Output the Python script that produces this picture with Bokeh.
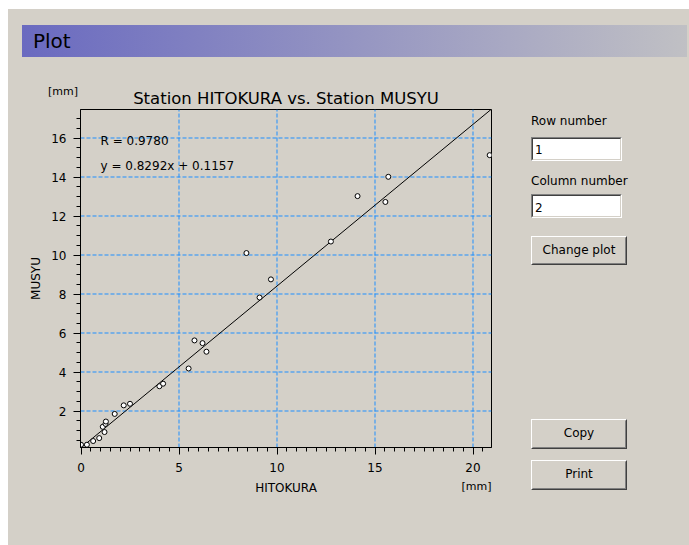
from bokeh.plotting import figure
from bokeh.models import FixedTicker, Label, Range1d, GridBox, Div
from bokeh.embed import file_html
from bokeh.resources import INLINE

# ---------------- data ----------------
hitokura = [0.00, 0.30, 0.62, 0.93, 1.20, 1.11, 1.25, 1.27, 1.72, 2.18, 2.50,
            4.00, 4.19, 5.49, 5.79, 6.20, 6.40, 8.44, 9.11, 9.69, 12.75,
            14.11, 15.53, 15.68, 20.85]
musyu = [0.27, 0.27, 0.46, 0.61, 0.92, 1.19, 1.34, 1.46, 1.85, 2.29, 2.37,
         3.27, 3.40, 4.18, 5.62, 5.48, 5.04, 10.10, 7.82, 8.75, 10.69,
         13.02, 12.72, 14.01, 15.12]
slope = 0.8292
intercept = 0.1157
r_value = 0.9780
x_major = [0, 5, 10, 15, 20]
y_major = [2, 4, 6, 8, 10, 12, 14, 16]
x_minor = [v / 2 for v in range(0, 42)]
y_minor = [v / 2 for v in range(1, 35)]
x_grid = [5, 10, 15, 20]
y_grid = [2, 4, 6, 8, 10, 12, 14, 16]

chart_title = "Station HITOKURA vs. Station MUSYU"
x_label = "HITOKURA"
y_label = "MUSYU"
unit_label = "[mm]"
panel_title = "Plot"
r_text = "R = %.4f" % r_value
eq_text = "y = %.4fx + %.4f" % (slope, intercept)
row_label = "Row number"
col_label = "Column number"
row_value = "1"
col_value = "2"
btn_change = "Change plot"
btn_copy = "Copy"
btn_print = "Print"

# ---------------- style / layout ----------------
FONT = "DejaVu Sans"
BG = "#d4d0c8"
GRID = "#1e8fff"
W, H = 689, 545
# plot frame on the page
FL, FR, FT, FB = 80, 491, 109, 447
# pixel scale (chosen so grid lines fall on pixel centres)
X_PX, X0_PX = 19.6, 80.5       # px per unit, page x of value 0
Y_PX, Y10_PX = 19.5, 254.5     # px per unit, page y of value 10

x_start = (FL - X0_PX) / X_PX
x_end = (FR - X0_PX) / X_PX
y_end = 10 + (Y10_PX - FT) / Y_PX
y_start = 10 - (FB - Y10_PX) / Y_PX

# ---------------- window decorations (HTML) ----------------
parts = []


def box(x0, y0, x1, y1, css):
    parts.append('<div style="position:absolute;left:%gpx;top:%gpx;width:%gpx;height:%gpx;'
                 'box-sizing:border-box;%s"></div>' % (x0, y0, x1 - x0, y1 - y0, css))


def text(x, baseline, s, size=12, align="left"):
    top = baseline - 0.846 * size
    if align == "left":
        left, width = x, 300
    elif align == "center":
        left, width = x - 150, 300
    else:
        left, width = x - 300, 300
    parts.append('<div style="position:absolute;left:%gpx;top:%gpx;width:%gpx;'
                 'font-family:\'%s\';font-size:%gpx;line-height:1;color:#000;'
                 'white-space:nowrap;text-align:%s">%s</div>'
                 % (left, top, width, FONT, size, align, s))


def sunken(x0, y0, x1, y1):
    box(x0, y0, x1, y1, "border:1px solid;border-color:#808080 #ffffff #ffffff #808080;")
    box(x0 + 1, y0 + 1, x1 - 1, y1 - 1,
        "border:1px solid;border-color:#404040 #d4d0c8 #d4d0c8 #404040;background:#ffffff;")


def raised(x0, y0, x1, y1, label, baseline):
    box(x0, y0, x1, y1, "border:1px solid;border-color:#ffffff #404040 #404040 #ffffff;")
    box(x0 + 1, y0 + 1, x1 - 1, y1 - 1,
        "border:1px solid;border-color:%s #808080 #808080 %s;background:%s;" % (BG, BG, BG))
    text((x0 + x1) / 2, baseline, label, align="center")


box(8, 9, W, H, "background:%s;" % BG)
box(22, 25, 687, 57, "background:linear-gradient(to right,#6a6ac0,#c0c0c4);")
text(33, 47.5, panel_title, size=20)

text(48, 95, unit_label, size=11)
text(491.5, 490, unit_label, size=11, align="right")

text(531, 125, row_label)
sunken(531, 137, 622, 161)
text(535, 154, row_value)
text(531, 185, col_label)
sunken(531, 194, 622, 218)
text(535, 212.5, col_value)
raised(531, 236, 627, 265, btn_change, 254)
raised(531, 419, 627, 449, btn_copy, 437.5)
raised(531, 460, 627, 490, btn_print, 478.5)

html = ('<div style="position:relative;width:%dpx;height:%dpx;background:#ffffff;'
        'overflow:hidden">%s</div>' % (W, H, "".join(parts)))
deco = Div(text=html, width=W, height=H, margin=(0, 0, 0, 0))

# ---------------- the scatter plot ----------------
p = figure(width=W, height=H,
           x_range=Range1d(x_start, x_end), y_range=Range1d(y_start, y_end),
           output_backend="svg", toolbar_location=None,
           min_border_left=FL, min_border_right=W - FR,
           min_border_top=FT, min_border_bottom=H - FB,
           background_fill_alpha=0, border_fill_alpha=0,
           outline_line_color="black", outline_line_width=1)

p.title.text = chart_title
p.title.align = "center"
p.title.text_font = FONT
p.title.text_font_size = "16.5px"
p.title.text_font_style = "normal"
p.title.text_color = "black"
p.title.standoff = 3

for ax in (p.xaxis[0], p.yaxis[0]):
    ax.axis_line_color = "black"
    ax.major_tick_line_color = "black"
    ax.minor_tick_line_color = "black"
    ax.major_tick_in = 0
    ax.major_tick_out = 7
    ax.minor_tick_in = 0
    ax.minor_tick_out = 4
    ax.major_label_text_font = FONT
    ax.major_label_text_font_size = "12px"
    ax.major_label_text_color = "black"
    ax.axis_label_text_font = FONT
    ax.axis_label_text_font_size = "12px"
    ax.axis_label_text_font_style = "normal"
    ax.axis_label_text_color = "black"

p.xaxis.ticker = FixedTicker(ticks=x_major, minor_ticks=x_minor)
p.yaxis.ticker = FixedTicker(ticks=y_major, minor_ticks=y_minor)
p.xaxis.axis_label = x_label
p.yaxis.axis_label = y_label
p.xaxis.major_label_standoff = 8
p.yaxis.major_label_standoff = 7
p.xaxis.axis_label_standoff = 6
p.yaxis.axis_label_standoff = 5

# grid lines drawn as glyphs (exact, un-rounded pixel positions -> crisp)
p.grid.visible = False
p.segment(x0=x_grid, y0=[y_start] * len(x_grid), x1=x_grid, y1=[y_end] * len(x_grid),
          line_color=GRID, line_width=1, line_dash="4 2")
p.segment(x0=[x_start] * len(y_grid), y0=y_grid, x1=[x_end] * len(y_grid), y1=y_grid,
          line_color=GRID, line_width=1, line_dash="4 2")

line_x = [0, x_end]
line_y = [slope * v + intercept for v in line_x]
p.line(line_x, line_y, line_color="black", line_width=1)

p.scatter(hitokura, musyu, marker="circle", size=5, fill_color="white",
          line_color="black", line_width=1)

for s, base in ((r_text, 140), (eq_text, 165)):
    p.add_layout(Label(x=100 - FL, y=FB - base, x_units="screen", y_units="screen",
                       text=s, text_font=FONT, text_font_size="12px",
                       text_color="black", text_baseline="alphabetic"))

layout = GridBox(children=[(deco, 0, 0), (p, 0, 0)], spacing=0)

open("out.html", "w").write(file_html(layout, INLINE))
